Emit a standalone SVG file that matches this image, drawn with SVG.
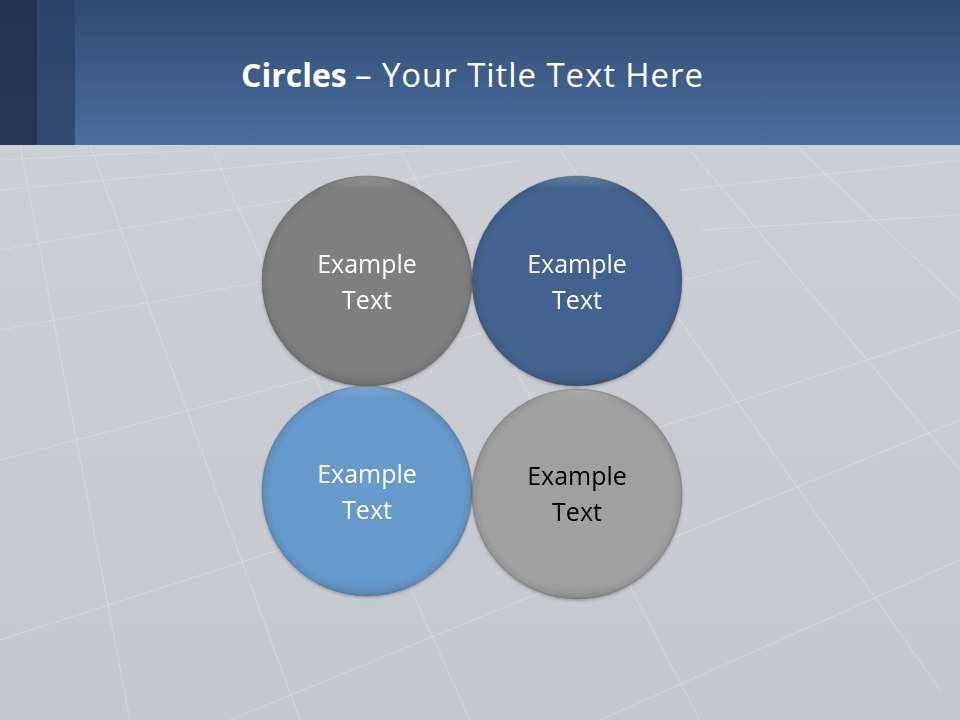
<svg xmlns="http://www.w3.org/2000/svg" width="960" height="720" viewBox="0 0 960 720">
<defs>
<linearGradient id="hdr" x1="0" y1="0" x2="0" y2="1">
<stop offset="0" stop-color="#2f4a6f"/><stop offset="1" stop-color="#4a6e9f"/>
</linearGradient>
<linearGradient id="bg" x1="0" y1="0" x2="0" y2="1">
<stop offset="0" stop-color="#cdd1d6"/><stop offset="1" stop-color="#c6c9ce"/>
</linearGradient>
<radialGradient id="bevel" cx="0.5" cy="0.5" r="0.5">
<stop offset="0.92" stop-color="#000" stop-opacity="0"/>
<stop offset="0.98" stop-color="#000" stop-opacity="0.06"/>
<stop offset="1" stop-color="#000" stop-opacity="0.14"/>
</radialGradient>
<linearGradient id="hl" x1="0" y1="0" x2="0" y2="1">
<stop offset="0" stop-color="#fff" stop-opacity="0.22"/>
<stop offset="0.06" stop-color="#fff" stop-opacity="0"/>
<stop offset="0.92" stop-color="#000" stop-opacity="0"/>
<stop offset="1" stop-color="#000" stop-opacity="0.08"/>
</linearGradient>
<filter id="sh" x="-20%" y="-20%" width="140%" height="140%">
<feDropShadow dx="0" dy="1.5" stdDeviation="1.5" flood-color="#000" flood-opacity="0.25"/>
</filter>
</defs>
<style>
.lbl{font-family:"Open Sans","Liberation Sans",sans-serif;font-size:25px;text-anchor:middle}
.w{fill:#ffffff}.k{fill:#000000}
.grid{stroke:#eef3fa;stroke-opacity:0.3;stroke-width:1.2;fill:none}
.edge{stroke:#5a5a5a;stroke-opacity:0.3;stroke-width:1}
</style>
<rect width="960" height="720" fill="url(#bg)"/>
<g class="grid">
<path d="M0 190 L420 150 M0 250 L520 160 M0 330 L620 215 M0 460 L760 260 M0 640 L960 330 M230 720 L960 420 M600 720 L960 560"/>
<path d="M20 145 L130 720 M90 145 L300 720 M210 145 L470 720 M400 150 L700 720 M560 150 L940 690 M690 150 L960 470 M800 150 L960 300"/>
<path d="M680 190 L960 160 M700 230 L960 215 M0 160 L200 150"/>
</g>
<rect x="0" y="0" width="960" height="145" fill="url(#hdr)"/>
<rect x="0" y="0" width="37" height="145" fill="#22324d" opacity="0.9"/>
<rect x="37" y="0" width="38" height="145" fill="#2a4266" opacity="0.8"/>
<text x="241" y="87" font-family="'Open Sans','Liberation Sans',sans-serif" font-size="32" font-weight="bold" fill="#ffffff">Circles</text>
<text x="355" y="87" font-family="'Open Sans','Liberation Sans',sans-serif" font-size="33" fill="#ffffff" textLength="348" lengthAdjust="spacing">– Your Title Text Here</text>
<g id="circle1" filter="url(#sh)">
<circle cx="367" cy="281" r="105" fill="#7f7f7f"/>
<circle cx="367" cy="281" r="105" fill="url(#hl)"/>
<circle cx="367" cy="281" r="105" fill="url(#bevel)" class="edge"/>
<text class="lbl w" x="367" y="273">Example</text>
<text class="lbl w" x="367" y="309">Text</text>
</g>
<g id="circle2" filter="url(#sh)">
<circle cx="577" cy="281" r="105" fill="#42638f"/>
<circle cx="577" cy="281" r="105" fill="url(#hl)"/>
<circle cx="577" cy="281" r="105" fill="url(#bevel)" class="edge"/>
<text class="lbl w" x="577" y="273">Example</text>
<text class="lbl w" x="577" y="309">Text</text>
</g>
<g id="circle3" filter="url(#sh)">
<circle cx="367" cy="491" r="105" fill="#6699cc"/>
<circle cx="367" cy="491" r="105" fill="url(#hl)"/>
<circle cx="367" cy="491" r="105" fill="url(#bevel)" class="edge"/>
<text class="lbl w" x="367" y="483">Example</text>
<text class="lbl w" x="367" y="519">Text</text>
</g>
<g id="circle4" filter="url(#sh)">
<circle cx="577" cy="494" r="105" fill="#a0a0a0"/>
<circle cx="577" cy="494" r="105" fill="url(#hl)"/>
<circle cx="577" cy="494" r="105" fill="url(#bevel)" class="edge"/>
<text class="lbl k" x="577" y="485">Example</text>
<text class="lbl k" x="577" y="521">Text</text>
</g>
</svg>
